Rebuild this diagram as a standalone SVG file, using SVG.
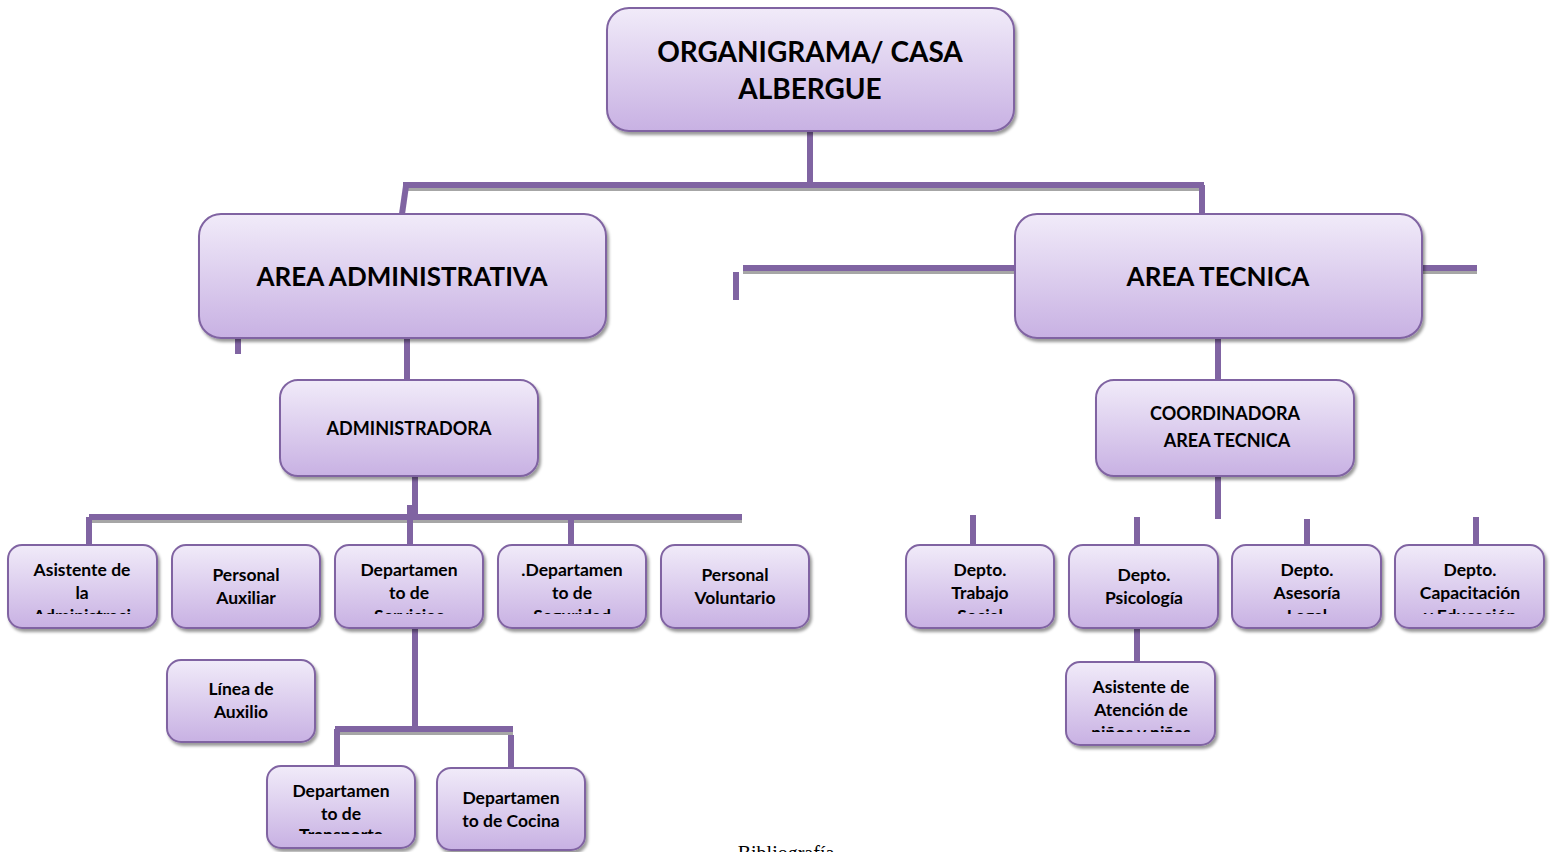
<svg xmlns="http://www.w3.org/2000/svg" width="1553" height="852" viewBox="0 0 1553 852">
<style>
.box{fill:url(#g);stroke:#8064a2;stroke-width:2;filter:url(#sh)}
.t{font-family:Lato,"Open Sans","Liberation Sans",sans-serif;font-weight:bold;fill:#000;text-anchor:middle}
.big{font-size:28px}
.area{font-size:26px}
.mid{font-size:18px}
.sm{font-size:17.5px}
.ln{stroke:#8064a2;stroke-width:6;fill:none}
.lsh{stroke:#a6a6a6;stroke-width:6;fill:none}
</style>
<defs>
<linearGradient id="g" x1="0" y1="0" x2="0" y2="1">
<stop offset="0" stop-color="#f1ebf9"/>
<stop offset="1" stop-color="#c8b1e3"/>
</linearGradient>
<filter id="sh" x="-10%" y="-10%" width="130%" height="140%">
<feDropShadow dx="2" dy="3" stdDeviation="1.5" flood-color="#000" flood-opacity="0.4"/>
</filter>
<clipPath id="c1" clipPathUnits="userSpaceOnUse"><rect x="0" y="540" width="1553" height="74"/></clipPath>
<clipPath id="c2" clipPathUnits="userSpaceOnUse"><rect x="0" y="760" width="1553" height="74"/></clipPath>
<clipPath id="c3" clipPathUnits="userSpaceOnUse"><rect x="0" y="660" width="1553" height="72"/></clipPath>
</defs>
<g id="connectors">
<g transform="translate(0,3)">
<path class="lsh" d="M403 185H1204M743 268H1015M1422 268H1477M89 517H742M335 729H513"/>
</g>
<path class="ln" d="M810 131V188"/>
<path class="ln" d="M403 185H1204"/>
<path class="ln" d="M406 186L402 214"/>
<path class="ln" d="M1202 185V214"/>
<path class="ln" d="M743 268H1015"/>
<path class="ln" d="M736 272V300"/>
<path class="ln" d="M1422 268H1477"/>
<path class="ln" d="M238 338V354"/>
<path class="ln" d="M407 338V380"/>
<path class="ln" d="M1218 338V380"/>
<path class="ln" d="M415 476V516"/>
<path class="ln" d="M89 517H742"/>
<path class="ln" d="M89 517V545"/>
<path class="ln" d="M410 505V545"/>
<path class="ln" d="M571 517V547"/>
<path class="ln" d="M415 628V729"/>
<path class="ln" d="M335 729H513"/>
<path class="ln" d="M337 729V765"/>
<path class="ln" d="M511 735V767"/>
<path class="ln" d="M1218 476V519"/>
<path class="ln" d="M973 515V545"/>
<path class="ln" d="M1137 517V545"/>
<path class="ln" d="M1307 519V549"/>
<path class="ln" d="M1476 517V547"/>
<path class="ln" d="M1137 628V662"/>
</g>
<g id="root"><rect class="box" x="607" y="8" width="407" height="123" rx="22"/>
<text class="t big" x="810" y="62">ORGANIGRAMA/ CASA</text><text class="t big" x="810" y="99">ALBERGUE</text></g>
<g id="area-admin"><rect class="box" x="199" y="214" width="407" height="124" rx="22"/>
<text class="t area" x="402" y="286">AREA ADMINISTRATIVA</text></g>
<g id="area-tec"><rect class="box" x="1015" y="214" width="407" height="124" rx="22"/>
<text class="t area" x="1218" y="286">AREA TECNICA</text></g>
<g id="administradora"><rect class="box" x="280" y="380" width="258" height="96" rx="18"/>
<text class="t mid" x="409" y="435">ADMINISTRADORA</text></g>
<g id="coordinadora"><rect class="box" x="1096" y="380" width="258" height="96" rx="18"/>
<text class="t mid" x="1225" y="420">COORDINADORA</text><text class="t mid" x="1227" y="447">AREA TECNICA</text></g>
<g id="asistente-admin"><rect class="box" x="8" y="545" width="149" height="83" rx="14"/>
<g clip-path="url(#c1)"><text class="t sm" x="82" y="576">Asistente de</text><text class="t sm" x="82" y="599">la</text><text class="t sm" x="82" y="622">Administraci</text></g></g>
<g id="personal-aux"><rect class="box" x="172" y="545" width="148" height="83" rx="14"/>
<text class="t sm" x="246" y="581">Personal</text><text class="t sm" x="246" y="604">Auxiliar</text></g>
<g id="dep-servicios"><rect class="box" x="335" y="545" width="148" height="83" rx="14"/>
<g clip-path="url(#c1)"><text class="t sm" x="409" y="576">Departamen</text><text class="t sm" x="409" y="599">to de</text><text class="t sm" x="409" y="622">Servicios</text></g></g>
<g id="dep-seguridad"><rect class="box" x="498" y="545" width="148" height="83" rx="14"/>
<g clip-path="url(#c1)"><text class="t sm" x="572" y="576">.Departamen</text><text class="t sm" x="572" y="599">to de</text><text class="t sm" x="572" y="622">Seguridad</text></g></g>
<g id="personal-vol"><rect class="box" x="661" y="545" width="148" height="83" rx="14"/>
<text class="t sm" x="735" y="581">Personal</text><text class="t sm" x="735" y="604">Voluntario</text></g>
<g id="linea-auxilio"><rect class="box" x="167" y="660" width="148" height="82" rx="14"/>
<text class="t sm" x="241" y="695">Línea de</text><text class="t sm" x="241" y="718">Auxilio</text></g>
<g id="dep-transporte"><rect class="box" x="267" y="766" width="148" height="82" rx="14"/>
<g clip-path="url(#c2)"><text class="t sm" x="341" y="797">Departamen</text><text class="t sm" x="341" y="820">to de</text><text class="t sm" x="341" y="841">Transporte</text></g></g>
<g id="dep-cocina"><rect class="box" x="437" y="768" width="148" height="82" rx="14"/>
<text class="t sm" x="511" y="804">Departamen</text><text class="t sm" x="511" y="827">to de Cocina</text></g>
<g id="trabajo-social"><rect class="box" x="906" y="545" width="148" height="83" rx="14"/>
<g clip-path="url(#c1)"><text class="t sm" x="980" y="576">Depto.</text><text class="t sm" x="980" y="599">Trabajo</text><text class="t sm" x="980" y="622">Social</text></g></g>
<g id="psicologia"><rect class="box" x="1069" y="545" width="149" height="83" rx="14"/>
<text class="t sm" x="1144" y="581">Depto.</text><text class="t sm" x="1144" y="604">Psicología</text></g>
<g id="asesoria"><rect class="box" x="1232" y="545" width="149" height="83" rx="14"/>
<g clip-path="url(#c1)"><text class="t sm" x="1307" y="576">Depto.</text><text class="t sm" x="1307" y="599">Asesoría</text><text class="t sm" x="1307" y="622">Legal</text></g></g>
<g id="capacitacion"><rect class="box" x="1395" y="545" width="149" height="83" rx="14"/>
<g clip-path="url(#c1)"><text class="t sm" x="1470" y="576">Depto.</text><text class="t sm" x="1470" y="599">Capacitación</text><text class="t sm" x="1470" y="622">y Educación</text></g></g>
<g id="asistente-atencion"><rect class="box" x="1066" y="662" width="149" height="83" rx="14"/>
<g clip-path="url(#c3)"><text class="t sm" x="1141" y="693">Asistente de</text><text class="t sm" x="1141" y="716">Atención de</text><text class="t sm" x="1141" y="739">niños y niñas</text></g></g>
<text x="786" y="860" font-family="'Liberation Serif',serif" font-size="20" text-anchor="middle" fill="#000">Bibliografía</text>
</svg>
